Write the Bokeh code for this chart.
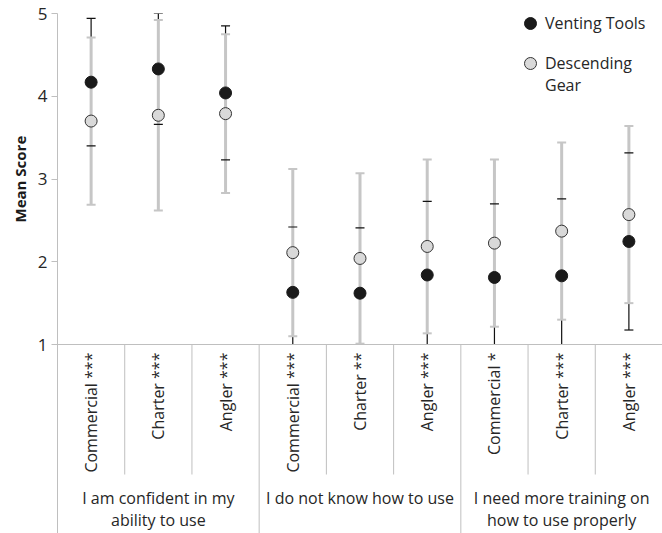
import math
from bokeh.plotting import figure
from bokeh.models import Range1d, FixedTicker, Span, Title, Legend, LegendItem
from bokeh.core.properties import value
from bokeh.embed import file_html
from bokeh.resources import INLINE

# ---------------- data ----------------
categories = ["Commercial ***", "Charter ***", "Angler ***",
              "Commercial ***", "Charter **", "Angler ***",
              "Commercial *", "Charter ***", "Angler ***"]
groups = ["I am confident in my\nability to use",
          "I do not know how to use",
          "I need more training on\nhow to use properly"]
group_size = [3, 3, 3]
venting_mean = [4.17, 4.33, 4.04, 1.63, 1.62, 1.84, 1.81, 1.83, 2.245]
venting_err = [0.77, 0.67, 0.81, 0.79, 0.79, 0.89, 0.89, 0.93, 1.07]
descending_mean = [3.70, 3.77, 3.79, 2.11, 2.04, 2.185, 2.225, 2.37, 2.57]
descending_err = [1.01, 1.15, 0.96, 1.01, 1.03, 1.05, 1.01, 1.07, 1.07]
y_ticks = [1, 2, 3, 4, 5]
series_names = ["Venting Tools", "\nDescending\nGear"]

# ---------------- layout ----------------
AX_MIN, AX_MAX = 1, 5
FIG_W, FIG_H = 662, 533
TOP, LEFT = 13, 57
BASE_PX = 331           # px from frame top down to the value-1 axis
frame_h = FIG_H - TOP
ppu = BASE_PX / (AX_MAX - AX_MIN)
y_start = AX_MIN - (frame_h - BASE_PX) / ppu
inner_div_bottom = AX_MIN - 130 / ppu

FONT = "Open Sans"
TXT = "#262626"
GRID = "#bfbfbf"
GRAY_BAR = "#c6c6c6"

n = len(categories)
xs = [i + 0.5 for i in range(n)]

p = figure(width=FIG_W, height=FIG_H, output_backend="svg", toolbar_location=None,
           x_range=Range1d(0, n), y_range=Range1d(y_start, AX_MAX),
           x_axis_location=None, min_border_left=LEFT, min_border_right=0,
           min_border_top=TOP, min_border_bottom=0)
p.outline_line_color = None
p.grid.visible = False
p.background_fill_color = "white"

ax = p.yaxis[0]
ax.ticker = FixedTicker(ticks=y_ticks)
ax.minor_tick_line_color = None
ax.major_tick_in = 0
ax.major_tick_out = 6
ax.axis_line_color = GRID
ax.major_tick_line_color = GRID
ax.major_label_text_font = FONT
ax.major_label_text_font_size = "17px"
ax.major_label_text_color = TXT
ax.major_label_standoff = 4

# y-axis title, centred on the 1..5 scale
p.add_layout(Title(text="Mean Score", align="left", offset=311, standoff=10,
                   text_font=FONT, text_font_size="15px", text_font_style="bold",
                   text_color="#1a1a1a"), "left")

# horizontal axis line at value 1
p.add_layout(Span(location=AX_MIN, dimension="width", line_color=GRID, line_width=1))

# category dividers
inner = []
outer = []
pos = 0
for gs in group_size:
    for k in range(1, gs):
        inner.append(pos + k)
    pos += gs
    if pos < n:
        outer.append(pos)
p.segment(x0=inner, x1=inner, y0=[AX_MIN] * len(inner), y1=[inner_div_bottom] * len(inner),
          line_color=GRID, line_width=1)
p.segment(x0=outer, x1=outer, y0=[AX_MIN] * len(outer), y1=[y_start] * len(outer),
          line_color=GRID, line_width=1)

# category labels
p.text(x=xs, y=[AX_MIN] * n, text=categories, angle=math.pi / 2,
       text_align="right", text_baseline="middle", y_offset=8,
       text_font=value(FONT), text_font_size="16px", text_color=TXT)

# group labels
gx = []
pos = 0
for gs in group_size:
    gx.append(pos + gs / 2)
    pos += gs
p.text(x=gx, y=[AX_MIN] * len(gx), text=groups, text_align="center",
       text_baseline="top", y_offset=142, text_line_height=1.03,
       text_font=value(FONT), text_font_size="16px", text_color=TXT)


def bars(mean, err):
    lo = [max(m - e, AX_MIN) for m, e in zip(mean, err)]
    hi = [min(m + e, AX_MAX) for m, e in zip(mean, err)]
    cap_x = [x for x, m, e in zip(xs, mean, err) if m - e >= AX_MIN] + \
            [x for x, m, e in zip(xs, mean, err) if m + e <= AX_MAX + 0.001]
    cap_y = [m - e for m, e in zip(mean, err) if m - e >= AX_MIN] + \
            [m + e for m, e in zip(mean, err) if m + e <= AX_MAX + 0.001]
    return lo, hi, cap_x, cap_y


v_lo, v_hi, v_cx, v_cy = bars(venting_mean, venting_err)
d_lo, d_hi, d_cx, d_cy = bars(descending_mean, descending_err)

p.segment(x0=xs, x1=xs, y0=v_lo, y1=v_hi, line_color="#111111", line_width=1.2)
p.segment(x0=xs, x1=xs, y0=d_lo, y1=d_hi, line_color=GRAY_BAR, line_width=3)
p.scatter(x=d_cx, y=d_cy, marker="dash", size=9, line_color=GRAY_BAR, line_width=2)
p.scatter(x=v_cx, y=v_cy, marker="dash", size=9, line_color="#111111", line_width=1.2)

r_v = p.scatter(x=xs, y=venting_mean, size=12, fill_color="#1a1a1a", line_color="#1a1a1a")
r_d = p.scatter(x=xs, y=descending_mean, size=12, fill_color="#d9d9d9", line_color="#333333",
                line_width=1)

LEG_X = 458
LEG_STYLE = dict(padding=0, margin=0, spacing=0, glyph_width=30, glyph_height=30,
                 label_standoff=0, label_text_font=FONT, label_text_font_size="16px",
                 label_text_color=TXT, label_text_line_height=1.0,
                 border_line_alpha=0, background_fill_alpha=0)
# one legend block per series (top edges 8px and 30px below the page top)
leg_v = Legend(items=[LegendItem(label=series_names[0], renderers=[r_v])],
               location=(LEG_X, frame_h + 5 - 30), **LEG_STYLE)
leg_d = Legend(items=[LegendItem(label=series_names[1], renderers=[r_d])],
               location=(LEG_X, frame_h + 5 - 22 - 66), **LEG_STYLE)
p.add_layout(leg_v)
p.add_layout(leg_d)

open("out.html", "w").write(file_html(p, INLINE))
